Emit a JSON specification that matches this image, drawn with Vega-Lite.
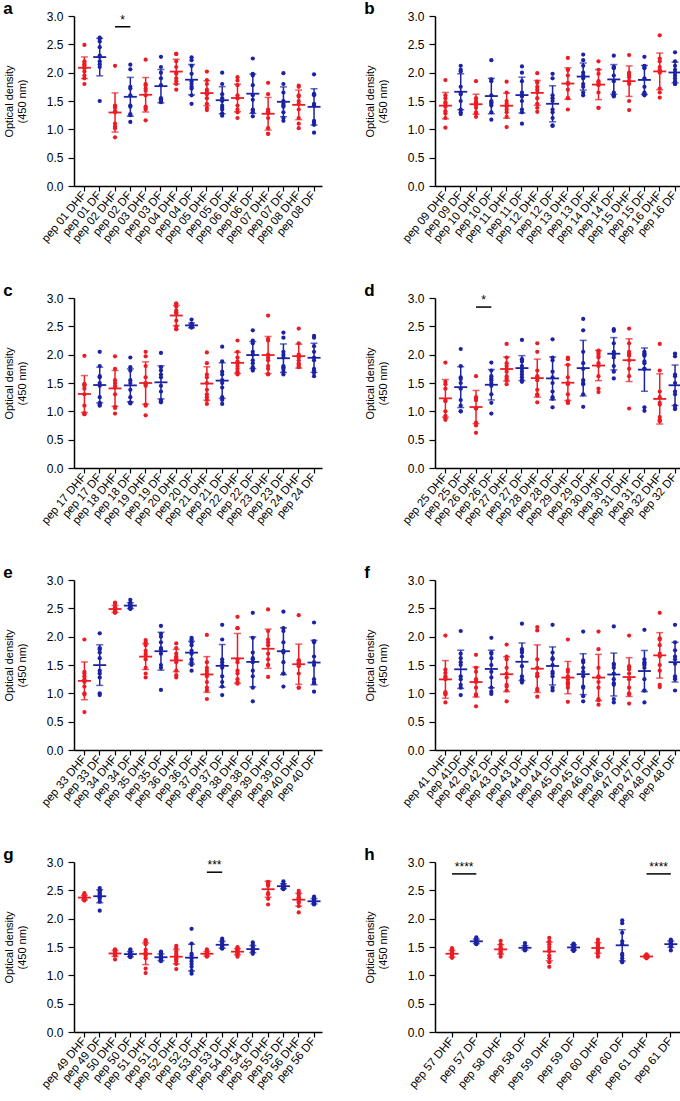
{
  "$schema": "https://vega.github.io/schema/vega-lite/v6.json",
  "padding": {"left": 3, "top": 0, "right": 4, "bottom": 0},
  "config": {
    "font": "Liberation Sans",
    "view": {"stroke": null},
    "axis": {"grid": false, "labelFont": "Liberation Sans", "titleFont": "Liberation Sans", "labelColor": "#000", "titleColor": "#000", "domainColor": "#000", "tickColor": "#000", "domainWidth": 1.5, "tickWidth": 1.2, "tickSize": 6, "labelFontSize": 11, "titleFontSize": 11, "titleFontWeight": "normal"},
    "axisX": {"labelAngle": -50, "labelOverlap": false, "labelPadding": 2, "labelFontSize": 11.5, "tickSize": 5, "title": null},
    "axisY": {"labelPadding": 5, "labelFontSize": 12, "titlePadding": 19, "titleLineHeight": 13},
    "title": {"anchor": "start", "frame": "bounds", "fontSize": 17, "fontWeight": "bold", "font": "Liberation Sans", "offset": -8, "color": "#000"}
  },
  "datasets": {
    "od": [
      {"p": "a", "g": "pep 01 DHF", "t": "DHF", "v": [2.49, 2.2, 2.17, 2.14, 2.12, 2.08, 2.02, 1.95, 1.9, 1.8]},
      {"p": "a", "g": "pep 01 DF", "t": "DF", "v": [2.62, 2.6, 2.55, 2.45, 2.3, 2.28, 2.2, 2.15, 2.1, 1.5]},
      {"p": "a", "g": "pep 02 DHF", "t": "DHF", "v": [2.12, 1.42, 1.4, 1.38, 1.32, 1.3, 1.1, 1.05, 1.02, 0.86]},
      {"p": "a", "g": "pep 02 DF", "t": "DF", "v": [2.14, 2.06, 1.75, 1.72, 1.6, 1.42, 1.4, 1.27, 1.25, 1.13]},
      {"p": "a", "g": "pep 03 DHF", "t": "DHF", "v": [2.23, 1.8, 1.78, 1.72, 1.68, 1.6, 1.4, 1.38, 1.35, 1.16]},
      {"p": "a", "g": "pep 03 DF", "t": "DF", "v": [2.28, 2.1, 2.0, 1.9, 1.78, 1.55, 1.53, 1.5, 1.48, 1.5]},
      {"p": "a", "g": "pep 04 DHF", "t": "DHF", "v": [2.33, 2.33, 2.2, 2.1, 2.0, 1.98, 1.9, 1.85, 1.8, 1.7]},
      {"p": "a", "g": "pep 04 DF", "t": "DF", "v": [2.27, 2.22, 2.12, 1.98, 1.85, 1.8, 1.75, 1.72, 1.6, 1.45]},
      {"p": "a", "g": "pep 05 DHF", "t": "DHF", "v": [2.02, 1.87, 1.8, 1.7, 1.66, 1.62, 1.55, 1.45, 1.38, 1.34]},
      {"p": "a", "g": "pep 05 DF", "t": "DF", "v": [2.0, 1.8, 1.62, 1.55, 1.5, 1.42, 1.38, 1.35, 1.28, 1.24]},
      {"p": "a", "g": "pep 06 DHF", "t": "DHF", "v": [1.92, 1.86, 1.78, 1.6, 1.55, 1.55, 1.42, 1.35, 1.3, 1.2]},
      {"p": "a", "g": "pep 06 DF", "t": "DF", "v": [2.25, 1.98, 1.95, 1.78, 1.6, 1.52, 1.35, 1.33, 1.3, 1.23]},
      {"p": "a", "g": "pep 07 DHF", "t": "DHF", "v": [1.82, 1.62, 1.35, 1.32, 1.3, 1.28, 1.2, 1.02, 0.92, 0.92]},
      {"p": "a", "g": "pep 07 DF", "t": "DF", "v": [1.99, 1.8, 1.65, 1.5, 1.45, 1.42, 1.4, 1.3, 1.2, 1.15]},
      {"p": "a", "g": "pep 08 DHF", "t": "DHF", "v": [1.77, 1.75, 1.6, 1.58, 1.5, 1.45, 1.35, 1.2, 1.1, 1.02]},
      {"p": "a", "g": "pep 08 DF", "t": "DF", "v": [1.97, 1.62, 1.62, 1.6, 1.45, 1.42, 1.15, 1.12, 1.08, 0.94]},
      {"p": "b", "g": "pep 09 DHF", "t": "DHF", "v": [1.87, 1.6, 1.55, 1.48, 1.45, 1.4, 1.32, 1.28, 1.2, 1.03]},
      {"p": "b", "g": "pep 09 DF", "t": "DF", "v": [2.12, 2.05, 2.02, 1.75, 1.65, 1.62, 1.5, 1.35, 1.3, 1.27]},
      {"p": "b", "g": "pep 10 DHF", "t": "DHF", "v": [1.85, 1.55, 1.5, 1.48, 1.45, 1.42, 1.38, 1.3, 1.28, 1.22]},
      {"p": "b", "g": "pep 10 DF", "t": "DF", "v": [2.22, 1.88, 1.85, 1.6, 1.5, 1.48, 1.45, 1.42, 1.3, 1.17]},
      {"p": "b", "g": "pep 11 DHF", "t": "DHF", "v": [1.84, 1.65, 1.5, 1.45, 1.42, 1.4, 1.35, 1.3, 1.22, 1.04]},
      {"p": "b", "g": "pep 11 DF", "t": "DF", "v": [2.11, 2.0, 1.85, 1.65, 1.6, 1.58, 1.5, 1.35, 1.3, 1.1]},
      {"p": "b", "g": "pep 12 DHF", "t": "DHF", "v": [1.99, 1.84, 1.82, 1.75, 1.7, 1.65, 1.55, 1.45, 1.38, 1.31]},
      {"p": "b", "g": "pep 12 DF", "t": "DF", "v": [1.98, 1.9, 1.6, 1.55, 1.5, 1.35, 1.3, 1.2, 1.07, 1.06]},
      {"p": "b", "g": "pep 13 DHF", "t": "DHF", "v": [2.26, 2.05, 2.05, 1.95, 1.82, 1.8, 1.7, 1.55, 1.55, 1.35]},
      {"p": "b", "g": "pep 13 DF", "t": "DF", "v": [2.32, 2.22, 2.12, 2.0, 1.95, 1.9, 1.8, 1.75, 1.65, 1.6]},
      {"p": "b", "g": "pep 14 DHF", "t": "DHF", "v": [2.2, 2.05, 1.98, 1.85, 1.82, 1.8, 1.78, 1.65, 1.38, 1.38]},
      {"p": "b", "g": "pep 14 DF", "t": "DF", "v": [2.3, 2.1, 2.1, 2.08, 1.95, 1.85, 1.65, 1.6, 1.6, 1.58]},
      {"p": "b", "g": "pep 15 DHF", "t": "DHF", "v": [2.31, 2.0, 1.98, 1.95, 1.92, 1.85, 1.85, 1.8, 1.5, 1.34]},
      {"p": "b", "g": "pep 15 DF", "t": "DF", "v": [2.28, 2.12, 2.1, 2.08, 1.9, 1.75, 1.65, 1.62, 1.62, 1.6]},
      {"p": "b", "g": "pep 16 DHF", "t": "DHF", "v": [2.66, 2.25, 2.2, 2.1, 2.05, 2.03, 2.0, 1.72, 1.65, 1.56]},
      {"p": "b", "g": "pep 16 DF", "t": "DF", "v": [2.36, 2.2, 2.12, 2.05, 2.0, 1.95, 1.9, 1.85, 1.8, 1.8]},
      {"p": "c", "g": "pep 17 DHF", "t": "DHF", "v": [1.98, 1.48, 1.48, 1.45, 1.4, 1.3, 1.1, 0.97, 0.95, 0.95]},
      {"p": "c", "g": "pep 17 DF", "t": "DF", "v": [2.05, 1.8, 1.62, 1.6, 1.5, 1.45, 1.25, 1.15, 1.12, 1.1]},
      {"p": "c", "g": "pep 18 DHF", "t": "DHF", "v": [1.97, 1.75, 1.55, 1.5, 1.45, 1.42, 1.3, 1.08, 1.06, 0.96]},
      {"p": "c", "g": "pep 18 DF", "t": "DF", "v": [1.95, 1.78, 1.72, 1.55, 1.5, 1.38, 1.25, 1.16, 1.15, 1.14]},
      {"p": "c", "g": "pep 19 DHF", "t": "DHF", "v": [2.05, 1.97, 1.8, 1.6, 1.5, 1.48, 1.45, 1.12, 1.1, 0.93]},
      {"p": "c", "g": "pep 19 DF", "t": "DF", "v": [2.03, 1.78, 1.72, 1.65, 1.6, 1.45, 1.35, 1.2, 1.18, 1.16]},
      {"p": "c", "g": "pep 20 DHF", "t": "DHF", "v": [2.9, 2.9, 2.85, 2.78, 2.75, 2.73, 2.6, 2.5, 2.45, 2.45]},
      {"p": "c", "g": "pep 20 DF", "t": "DF", "v": [2.62, 2.55, 2.52, 2.52, 2.51, 2.5, 2.5, 2.49, 2.48, 2.48]},
      {"p": "c", "g": "pep 21 DHF", "t": "DHF", "v": [2.04, 1.85, 1.65, 1.6, 1.5, 1.38, 1.3, 1.25, 1.2, 1.13]},
      {"p": "c", "g": "pep 21 DF", "t": "DF", "v": [2.14, 1.88, 1.7, 1.65, 1.55, 1.5, 1.42, 1.25, 1.2, 1.13]},
      {"p": "c", "g": "pep 22 DHF", "t": "DHF", "v": [2.25, 2.05, 1.95, 1.88, 1.85, 1.8, 1.75, 1.7, 1.68, 1.65]},
      {"p": "c", "g": "pep 22 DF", "t": "DF", "v": [2.43, 2.25, 2.2, 2.05, 2.0, 1.9, 1.85, 1.78, 1.75, 1.72]},
      {"p": "c", "g": "pep 23 DHF", "t": "DHF", "v": [2.69, 2.28, 2.25, 2.0, 1.95, 1.9, 1.8, 1.75, 1.66, 1.65]},
      {"p": "c", "g": "pep 23 DF", "t": "DF", "v": [2.39, 2.3, 2.05, 2.0, 1.95, 1.8, 1.78, 1.75, 1.7, 1.65]},
      {"p": "c", "g": "pep 24 DHF", "t": "DHF", "v": [2.46, 2.2, 2.0, 1.98, 1.95, 1.9, 1.85, 1.82, 1.8, 1.78]},
      {"p": "c", "g": "pep 24 DF", "t": "DF", "v": [2.33, 2.3, 2.15, 2.05, 1.95, 1.9, 1.75, 1.72, 1.68, 1.62]},
      {"p": "d", "g": "pep 25 DHF", "t": "DHF", "v": [1.86, 1.52, 1.48, 1.4, 1.2, 1.18, 1.0, 0.92, 0.88, 0.85]},
      {"p": "d", "g": "pep 25 DF", "t": "DF", "v": [2.1, 1.8, 1.6, 1.57, 1.5, 1.4, 1.2, 1.1, 1.0, 1.0]},
      {"p": "d", "g": "pep 26 DHF", "t": "DHF", "v": [1.62, 1.25, 1.22, 1.2, 1.2, 1.05, 1.05, 0.8, 0.75, 0.62]},
      {"p": "d", "g": "pep 26 DF", "t": "DF", "v": [1.86, 1.72, 1.62, 1.58, 1.55, 1.5, 1.45, 1.3, 1.15, 0.96]},
      {"p": "d", "g": "pep 27 DHF", "t": "DHF", "v": [2.19, 1.95, 1.85, 1.8, 1.75, 1.7, 1.62, 1.58, 1.55, 1.48]},
      {"p": "d", "g": "pep 27 DF", "t": "DF", "v": [2.26, 1.92, 1.88, 1.8, 1.75, 1.7, 1.65, 1.6, 1.55, 1.52]},
      {"p": "d", "g": "pep 28 DHF", "t": "DHF", "v": [2.2, 2.05, 1.72, 1.62, 1.6, 1.55, 1.38, 1.3, 1.28, 1.16]},
      {"p": "d", "g": "pep 28 DF", "t": "DF", "v": [2.27, 1.95, 1.9, 1.7, 1.6, 1.5, 1.35, 1.25, 1.22, 1.07]},
      {"p": "d", "g": "pep 29 DHF", "t": "DHF", "v": [1.95, 1.92, 1.82, 1.6, 1.5, 1.48, 1.3, 1.18, 1.15, 1.15]},
      {"p": "d", "g": "pep 29 DF", "t": "DF", "v": [2.63, 2.43, 2.05, 1.85, 1.75, 1.55, 1.5, 1.48, 1.3, 1.08]},
      {"p": "d", "g": "pep 30 DHF", "t": "DHF", "v": [2.07, 2.05, 2.02, 1.98, 1.95, 1.85, 1.8, 1.62, 1.4, 1.34]},
      {"p": "d", "g": "pep 30 DF", "t": "DF", "v": [2.45, 2.42, 2.2, 2.05, 2.02, 2.0, 1.95, 1.8, 1.7, 1.58]},
      {"p": "d", "g": "pep 31 DHF", "t": "DHF", "v": [2.46, 2.2, 2.05, 2.02, 2.0, 1.98, 1.9, 1.75, 1.62, 1.05]},
      {"p": "d", "g": "pep 31 DF", "t": "DF", "v": [2.05, 2.02, 2.0, 1.98, 1.88, 1.85, 1.75, 1.75, 1.07, 1.01]},
      {"p": "d", "g": "pep 32 DHF", "t": "DHF", "v": [2.19, 1.72, 1.35, 1.25, 1.15, 1.12, 0.9, 0.85, 0.83, 0.83]},
      {"p": "d", "g": "pep 32 DF", "t": "DF", "v": [2.02, 1.97, 1.65, 1.62, 1.5, 1.35, 1.3, 1.1, 1.05, 1.04]},
      {"p": "e", "g": "pep 33 DHF", "t": "DHF", "v": [1.95, 1.38, 1.35, 1.3, 1.25, 1.2, 1.12, 1.0, 0.98, 0.67]},
      {"p": "e", "g": "pep 33 DF", "t": "DF", "v": [2.06, 1.8, 1.78, 1.72, 1.62, 1.4, 1.35, 1.28, 1.0, 0.97]},
      {"p": "e", "g": "pep 34 DHF", "t": "DHF", "v": [2.6, 2.58, 2.52, 2.5, 2.48, 2.46, 2.45, 2.44, 2.43, 2.42]},
      {"p": "e", "g": "pep 34 DF", "t": "DF", "v": [2.65, 2.6, 2.58, 2.56, 2.55, 2.53, 2.52, 2.5, 2.5, 2.49]},
      {"p": "e", "g": "pep 35 DHF", "t": "DHF", "v": [1.94, 1.9, 1.85, 1.75, 1.7, 1.66, 1.6, 1.45, 1.35, 1.28]},
      {"p": "e", "g": "pep 35 DF", "t": "DF", "v": [2.19, 2.05, 2.0, 1.9, 1.8, 1.78, 1.7, 1.5, 1.45, 1.06]},
      {"p": "e", "g": "pep 36 DHF", "t": "DHF", "v": [1.88, 1.8, 1.7, 1.65, 1.62, 1.6, 1.55, 1.4, 1.32, 1.28]},
      {"p": "e", "g": "pep 36 DF", "t": "DF", "v": [1.98, 1.95, 1.9, 1.85, 1.75, 1.7, 1.6, 1.55, 1.5, 1.4]},
      {"p": "e", "g": "pep 37 DHF", "t": "DHF", "v": [2.03, 1.55, 1.45, 1.4, 1.35, 1.3, 1.2, 1.1, 1.05, 0.9]},
      {"p": "e", "g": "pep 37 DF", "t": "DF", "v": [2.21, 1.95, 1.6, 1.55, 1.5, 1.45, 1.3, 1.2, 1.12, 0.97]},
      {"p": "e", "g": "pep 38 DHF", "t": "DHF", "v": [2.35, 2.15, 2.15, 1.6, 1.55, 1.4, 1.35, 1.25, 1.2, 1.17]},
      {"p": "e", "g": "pep 38 DF", "t": "DF", "v": [2.42, 1.98, 1.72, 1.62, 1.6, 1.55, 1.4, 1.3, 1.1, 0.86]},
      {"p": "e", "g": "pep 39 DHF", "t": "DHF", "v": [2.48, 2.1, 1.95, 1.9, 1.85, 1.7, 1.6, 1.5, 1.5, 1.29]},
      {"p": "e", "g": "pep 39 DF", "t": "DF", "v": [2.44, 2.15, 2.1, 1.9, 1.75, 1.72, 1.55, 1.35, 1.35, 1.12]},
      {"p": "e", "g": "pep 40 DHF", "t": "DHF", "v": [2.38, 1.58, 1.58, 1.55, 1.52, 1.5, 1.48, 1.35, 1.1, 1.1]},
      {"p": "e", "g": "pep 40 DF", "t": "DF", "v": [2.25, 1.92, 1.9, 1.65, 1.55, 1.5, 1.25, 1.2, 1.18, 1.03]},
      {"p": "f", "g": "pep 41 DHF", "t": "DHF", "v": [2.02, 1.42, 1.36, 1.3, 1.27, 1.25, 1.02, 1.0, 0.98, 0.84]},
      {"p": "f", "g": "pep 41DF", "t": "DF", "v": [2.1, 1.7, 1.62, 1.55, 1.5, 1.3, 1.25, 1.15, 1.1, 0.97]},
      {"p": "f", "g": "pep 42 DHF", "t": "DHF", "v": [1.68, 1.45, 1.38, 1.25, 1.22, 1.2, 1.1, 0.98, 0.96, 0.77]},
      {"p": "f", "g": "pep 42 DF", "t": "DF", "v": [1.98, 1.72, 1.7, 1.62, 1.5, 1.38, 1.28, 1.1, 1.03, 0.99]},
      {"p": "f", "g": "pep 43 DHF", "t": "DHF", "v": [1.86, 1.65, 1.6, 1.45, 1.35, 1.28, 1.15, 1.12, 1.05, 0.86]},
      {"p": "f", "g": "pep 43 DF", "t": "DF", "v": [2.23, 1.78, 1.75, 1.72, 1.65, 1.48, 1.3, 1.25, 1.22, 1.19]},
      {"p": "f", "g": "pep 44 DHF", "t": "DHF", "v": [2.17, 2.11, 1.6, 1.45, 1.35, 1.3, 1.3, 1.08, 1.05, 0.94]},
      {"p": "f", "g": "pep 44 DF", "t": "DF", "v": [2.21, 1.72, 1.62, 1.6, 1.5, 1.38, 1.35, 1.3, 1.1, 1.05]},
      {"p": "f", "g": "pep 45 DHF", "t": "DHF", "v": [1.95, 1.42, 1.38, 1.3, 1.25, 1.2, 1.18, 1.15, 1.1, 0.85]},
      {"p": "f", "g": "pep 45 DF", "t": "DF", "v": [2.09, 1.58, 1.55, 1.45, 1.38, 1.3, 1.12, 1.1, 0.95, 0.86]},
      {"p": "f", "g": "pep 46 DHF", "t": "DHF", "v": [2.09, 1.78, 1.45, 1.3, 1.28, 1.2, 1.1, 0.9, 0.88, 0.8]},
      {"p": "f", "g": "pep 46 DF", "t": "DF", "v": [2.18, 1.52, 1.5, 1.45, 1.35, 1.25, 1.18, 1.15, 0.9, 0.84]},
      {"p": "f", "g": "pep 47 DHF", "t": "DHF", "v": [2.02, 1.48, 1.45, 1.42, 1.35, 1.25, 1.1, 1.0, 0.98, 0.82]},
      {"p": "f", "g": "pep 47 DF", "t": "DF", "v": [2.12, 1.6, 1.55, 1.52, 1.5, 1.45, 1.25, 1.05, 1.05, 0.84]},
      {"p": "f", "g": "pep 48 DHF", "t": "DHF", "v": [2.42, 1.97, 1.95, 1.85, 1.7, 1.65, 1.5, 1.4, 1.15, 1.11]},
      {"p": "f", "g": "pep 48 DF", "t": "DF", "v": [2.21, 1.9, 1.76, 1.65, 1.6, 1.52, 1.3, 1.26, 1.25, 1.05]},
      {"p": "g", "g": "pep 49 DHF", "t": "DHF", "v": [2.45, 2.42, 2.4, 2.38, 2.37, 2.36, 2.35, 2.34, 2.33, 2.32]},
      {"p": "g", "g": "pep 49 DF", "t": "DF", "v": [2.54, 2.5, 2.48, 2.45, 2.42, 2.4, 2.38, 2.35, 2.3, 2.14]},
      {"p": "g", "g": "pep 50 DHF", "t": "DHF", "v": [1.46, 1.45, 1.42, 1.4, 1.39, 1.38, 1.37, 1.36, 1.35, 1.28]},
      {"p": "g", "g": "pep 50 DF", "t": "DF", "v": [1.46, 1.43, 1.4, 1.38, 1.37, 1.36, 1.35, 1.34, 1.33, 1.32]},
      {"p": "g", "g": "pep 51 DHF", "t": "DHF", "v": [1.62, 1.6, 1.55, 1.45, 1.4, 1.38, 1.35, 1.3, 1.12, 1.04]},
      {"p": "g", "g": "pep 51 DF", "t": "DF", "v": [1.42, 1.4, 1.36, 1.33, 1.32, 1.3, 1.28, 1.27, 1.26, 1.25]},
      {"p": "g", "g": "pep 52 DHF", "t": "DHF", "v": [1.52, 1.48, 1.42, 1.38, 1.35, 1.3, 1.28, 1.25, 1.2, 1.11]},
      {"p": "g", "g": "pep 52 DF", "t": "DF", "v": [1.82, 1.56, 1.38, 1.35, 1.3, 1.25, 1.2, 1.15, 1.08, 1.03]},
      {"p": "g", "g": "pep 53 DHF", "t": "DHF", "v": [1.46, 1.43, 1.4, 1.39, 1.38, 1.37, 1.36, 1.35, 1.34, 1.33]},
      {"p": "g", "g": "pep 53 DF", "t": "DF", "v": [1.65, 1.62, 1.58, 1.55, 1.53, 1.52, 1.5, 1.49, 1.48, 1.47]},
      {"p": "g", "g": "pep 54 DHF", "t": "DHF", "v": [1.5, 1.48, 1.46, 1.44, 1.42, 1.41, 1.4, 1.38, 1.36, 1.33]},
      {"p": "g", "g": "pep 54 DF", "t": "DF", "v": [1.58, 1.54, 1.5, 1.47, 1.46, 1.45, 1.43, 1.42, 1.4, 1.38]},
      {"p": "g", "g": "pep 55 DHF", "t": "DHF", "v": [2.65, 2.64, 2.63, 2.62, 2.6, 2.58, 2.45, 2.43, 2.35, 2.25]},
      {"p": "g", "g": "pep 55 DF", "t": "DF", "v": [2.66, 2.62, 2.6, 2.58, 2.57, 2.56, 2.55, 2.54, 2.53, 2.52]},
      {"p": "g", "g": "pep 56 DHF", "t": "DHF", "v": [2.49, 2.45, 2.42, 2.38, 2.36, 2.34, 2.3, 2.28, 2.22, 2.11]},
      {"p": "g", "g": "pep 56 DF", "t": "DF", "v": [2.39, 2.37, 2.34, 2.32, 2.3, 2.29, 2.28, 2.27, 2.26, 2.25]},
      {"p": "h", "g": "pep 57 DHF", "t": "DHF", "v": [1.48, 1.46, 1.42, 1.4, 1.38, 1.36, 1.35, 1.33, 1.32, 1.31]},
      {"p": "h", "g": "pep 57 DF", "t": "DF", "v": [1.67, 1.65, 1.62, 1.61, 1.6, 1.59, 1.58, 1.57, 1.56, 1.55]},
      {"p": "h", "g": "pep 58 DHF", "t": "DHF", "v": [1.61, 1.55, 1.5, 1.48, 1.46, 1.45, 1.42, 1.4, 1.38, 1.33]},
      {"p": "h", "g": "pep 58 DF", "t": "DF", "v": [1.57, 1.52, 1.5, 1.49, 1.48, 1.48, 1.47, 1.46, 1.45, 1.44]},
      {"p": "h", "g": "pep 59 DHF", "t": "DHF", "v": [1.66, 1.6, 1.55, 1.5, 1.45, 1.42, 1.35, 1.3, 1.23, 1.15]},
      {"p": "h", "g": "pep 59 DF", "t": "DF", "v": [1.56, 1.55, 1.53, 1.52, 1.5, 1.48, 1.46, 1.45, 1.44, 1.43]},
      {"p": "h", "g": "pep 60 DHF", "t": "DHF", "v": [1.63, 1.58, 1.55, 1.52, 1.5, 1.47, 1.45, 1.42, 1.38, 1.33]},
      {"p": "h", "g": "pep 60 DF", "t": "DF", "v": [1.97, 1.92, 1.75, 1.6, 1.55, 1.38, 1.35, 1.3, 1.25, 1.23]},
      {"p": "h", "g": "pep 61 DHF", "t": "DHF", "v": [1.37, 1.36, 1.35, 1.34, 1.33, 1.33, 1.32, 1.32, 1.31, 1.3]},
      {"p": "h", "g": "pep 61 DF", "t": "DF", "v": [1.63, 1.61, 1.58, 1.57, 1.56, 1.55, 1.54, 1.52, 1.5, 1.44]}
    ],
    "sig": [
      {"p": "a", "g": "pep 02 DHF", "g2": "pep 02 DF", "y": 2.81, "s": "*"},
      {"p": "d", "g": "pep 26 DHF", "g2": "pep 26 DF", "y": 2.84, "s": "*"},
      {"p": "g", "g": "pep 53 DHF", "g2": "pep 53 DF", "y": 2.82, "s": "***"},
      {"p": "h", "g": "pep 57 DHF", "g2": "pep 57 DF", "y": 2.79, "s": "****"},
      {"p": "h", "g": "pep 61 DHF", "g2": "pep 61 DF", "y": 2.79, "s": "****"}
    ]
  },
  "columns": 2,
  "spacing": {"row": 37, "column": 42},
  "concat": [
    {
      "title": "a", "width": 248, "height": 170,
      "encoding": {"x": {"field": "g", "type": "nominal", "scale": {"domain": ["pep 01 DHF", "pep 01 DF", "pep 02 DHF", "pep 02 DF", "pep 03 DHF", "pep 03 DF", "pep 04 DHF", "pep 04 DF", "pep 05 DHF", "pep 05 DF", "pep 06 DHF", "pep 06 DF", "pep 07 DHF", "pep 07 DF", "pep 08 DHF", "pep 08 DF"], "paddingInner": 0, "paddingOuter": 0.1, "align": 0.9}}},
      "layer": [
        {
          "data": {"name": "od"},
          "transform": [{"filter": "datum.p == 'a'"}, {"flatten": ["v"]}],
          "encoding": {
            "y": {"field": "v", "type": "quantitative", "scale": {"domain": [0, 3], "nice": false}, "axis": {"values": [0, 0.5, 1, 1.5, 2, 2.5, 3], "format": ".1f", "title": ["Optical density", "(450 nm)"]}},
            "color": {"field": "t", "type": "nominal", "scale": {"domain": ["DHF", "DF"], "range": ["#ec1c24", "#1b22a3"]}, "legend": null}
          },
          "layer": [
            {"mark": {"type": "circle", "size": 18, "opacity": 1}},
            {"mark": {"type": "errorbar", "extent": "stdev", "thickness": 1.5, "ticks": {"size": 7, "thickness": 1.5}}},
            {"mark": {"type": "tick", "size": 13, "thickness": 1.8}, "encoding": {"y": {"aggregate": "mean", "field": "v", "type": "quantitative"}}}
          ]
        },
        {
          "data": {"name": "sig"},
          "transform": [{"filter": "datum.p == 'a'"}],
          "encoding": {"y": {"field": "y", "type": "quantitative", "axis": {"values": [0, 0.5, 1, 1.5, 2, 2.5, 3], "format": ".1f", "title": ["Optical density", "(450 nm)"]}}},
          "layer": [
            {"mark": {"type": "rule", "strokeWidth": 1.5, "color": "#000"}, "encoding": {"x2": {"field": "g2"}}},
            {"mark": {"type": "text", "fontSize": 12, "baseline": "alphabetic", "dy": -3, "color": "#000"}, "encoding": {"x": {"field": "g2", "type": "nominal", "bandPosition": 0}, "text": {"field": "s"}}}
          ]
        }
      ]
    },
    {
      "title": "b", "width": 248, "height": 170,
      "encoding": {"x": {"field": "g", "type": "nominal", "scale": {"domain": ["pep 09 DHF", "pep 09 DF", "pep 10 DHF", "pep 10 DF", "pep 11 DHF", "pep 11 DF", "pep 12 DHF", "pep 12 DF", "pep 13 DHF", "pep 13 DF", "pep 14 DHF", "pep 14 DF", "pep 15 DHF", "pep 15 DF", "pep 16 DHF", "pep 16 DF"], "paddingInner": 0, "paddingOuter": 0.1, "align": 0.9}}},
      "layer": [
        {
          "data": {"name": "od"},
          "transform": [{"filter": "datum.p == 'b'"}, {"flatten": ["v"]}],
          "encoding": {
            "y": {"field": "v", "type": "quantitative", "scale": {"domain": [0, 3], "nice": false}, "axis": {"values": [0, 0.5, 1, 1.5, 2, 2.5, 3], "format": ".1f", "title": ["Optical density", "(450 nm)"]}},
            "color": {"field": "t", "type": "nominal", "scale": {"domain": ["DHF", "DF"], "range": ["#ec1c24", "#1b22a3"]}, "legend": null}
          },
          "layer": [
            {"mark": {"type": "circle", "size": 18, "opacity": 1}},
            {"mark": {"type": "errorbar", "extent": "stdev", "thickness": 1.5, "ticks": {"size": 7, "thickness": 1.5}}},
            {"mark": {"type": "tick", "size": 13, "thickness": 1.8}, "encoding": {"y": {"aggregate": "mean", "field": "v", "type": "quantitative"}}}
          ]
        }
      ]
    },
    {
      "title": "c", "width": 248, "height": 170,
      "encoding": {"x": {"field": "g", "type": "nominal", "scale": {"domain": ["pep 17 DHF", "pep 17 DF", "pep 18 DHF", "pep 18 DF", "pep 19 DHF", "pep 19 DF", "pep 20 DHF", "pep 20 DF", "pep 21 DHF", "pep 21 DF", "pep 22 DHF", "pep 22 DF", "pep 23 DHF", "pep 23 DF", "pep 24 DHF", "pep 24 DF"], "paddingInner": 0, "paddingOuter": 0.1, "align": 0.9}}},
      "layer": [
        {
          "data": {"name": "od"},
          "transform": [{"filter": "datum.p == 'c'"}, {"flatten": ["v"]}],
          "encoding": {
            "y": {"field": "v", "type": "quantitative", "scale": {"domain": [0, 3], "nice": false}, "axis": {"values": [0, 0.5, 1, 1.5, 2, 2.5, 3], "format": ".1f", "title": ["Optical density", "(450 nm)"]}},
            "color": {"field": "t", "type": "nominal", "scale": {"domain": ["DHF", "DF"], "range": ["#ec1c24", "#1b22a3"]}, "legend": null}
          },
          "layer": [
            {"mark": {"type": "circle", "size": 18, "opacity": 1}},
            {"mark": {"type": "errorbar", "extent": "stdev", "thickness": 1.5, "ticks": {"size": 7, "thickness": 1.5}}},
            {"mark": {"type": "tick", "size": 13, "thickness": 1.8}, "encoding": {"y": {"aggregate": "mean", "field": "v", "type": "quantitative"}}}
          ]
        }
      ]
    },
    {
      "title": "d", "width": 248, "height": 170,
      "encoding": {"x": {"field": "g", "type": "nominal", "scale": {"domain": ["pep 25 DHF", "pep 25 DF", "pep 26 DHF", "pep 26 DF", "pep 27 DHF", "pep 27 DF", "pep 28 DHF", "pep 28 DF", "pep 29 DHF", "pep 29 DF", "pep 30 DHF", "pep 30 DF", "pep 31 DHF", "pep 31 DF", "pep 32 DHF", "pep 32 DF"], "paddingInner": 0, "paddingOuter": 0.1, "align": 0.9}}},
      "layer": [
        {
          "data": {"name": "od"},
          "transform": [{"filter": "datum.p == 'd'"}, {"flatten": ["v"]}],
          "encoding": {
            "y": {"field": "v", "type": "quantitative", "scale": {"domain": [0, 3], "nice": false}, "axis": {"values": [0, 0.5, 1, 1.5, 2, 2.5, 3], "format": ".1f", "title": ["Optical density", "(450 nm)"]}},
            "color": {"field": "t", "type": "nominal", "scale": {"domain": ["DHF", "DF"], "range": ["#ec1c24", "#1b22a3"]}, "legend": null}
          },
          "layer": [
            {"mark": {"type": "circle", "size": 18, "opacity": 1}},
            {"mark": {"type": "errorbar", "extent": "stdev", "thickness": 1.5, "ticks": {"size": 7, "thickness": 1.5}}},
            {"mark": {"type": "tick", "size": 13, "thickness": 1.8}, "encoding": {"y": {"aggregate": "mean", "field": "v", "type": "quantitative"}}}
          ]
        },
        {
          "data": {"name": "sig"},
          "transform": [{"filter": "datum.p == 'd'"}],
          "encoding": {"y": {"field": "y", "type": "quantitative", "axis": {"values": [0, 0.5, 1, 1.5, 2, 2.5, 3], "format": ".1f", "title": ["Optical density", "(450 nm)"]}}},
          "layer": [
            {"mark": {"type": "rule", "strokeWidth": 1.5, "color": "#000"}, "encoding": {"x2": {"field": "g2"}}},
            {"mark": {"type": "text", "fontSize": 12, "baseline": "alphabetic", "dy": -3, "color": "#000"}, "encoding": {"x": {"field": "g2", "type": "nominal", "bandPosition": 0}, "text": {"field": "s"}}}
          ]
        }
      ]
    },
    {
      "title": "e", "width": 248, "height": 170,
      "encoding": {"x": {"field": "g", "type": "nominal", "scale": {"domain": ["pep 33 DHF", "pep 33 DF", "pep 34 DHF", "pep 34 DF", "pep 35 DHF", "pep 35 DF", "pep 36 DHF", "pep 36 DF", "pep 37 DHF", "pep 37 DF", "pep 38 DHF", "pep 38 DF", "pep 39 DHF", "pep 39 DF", "pep 40 DHF", "pep 40 DF"], "paddingInner": 0, "paddingOuter": 0.1, "align": 0.9}}},
      "layer": [
        {
          "data": {"name": "od"},
          "transform": [{"filter": "datum.p == 'e'"}, {"flatten": ["v"]}],
          "encoding": {
            "y": {"field": "v", "type": "quantitative", "scale": {"domain": [0, 3], "nice": false}, "axis": {"values": [0, 0.5, 1, 1.5, 2, 2.5, 3], "format": ".1f", "title": ["Optical density", "(450 nm)"]}},
            "color": {"field": "t", "type": "nominal", "scale": {"domain": ["DHF", "DF"], "range": ["#ec1c24", "#1b22a3"]}, "legend": null}
          },
          "layer": [
            {"mark": {"type": "circle", "size": 18, "opacity": 1}},
            {"mark": {"type": "errorbar", "extent": "stdev", "thickness": 1.5, "ticks": {"size": 7, "thickness": 1.5}}},
            {"mark": {"type": "tick", "size": 13, "thickness": 1.8}, "encoding": {"y": {"aggregate": "mean", "field": "v", "type": "quantitative"}}}
          ]
        }
      ]
    },
    {
      "title": "f", "width": 248, "height": 170,
      "encoding": {"x": {"field": "g", "type": "nominal", "scale": {"domain": ["pep 41 DHF", "pep 41DF", "pep 42 DHF", "pep 42 DF", "pep 43 DHF", "pep 43 DF", "pep 44 DHF", "pep 44 DF", "pep 45 DHF", "pep 45 DF", "pep 46 DHF", "pep 46 DF", "pep 47 DHF", "pep 47 DF", "pep 48 DHF", "pep 48 DF"], "paddingInner": 0, "paddingOuter": 0.1, "align": 0.9}}},
      "layer": [
        {
          "data": {"name": "od"},
          "transform": [{"filter": "datum.p == 'f'"}, {"flatten": ["v"]}],
          "encoding": {
            "y": {"field": "v", "type": "quantitative", "scale": {"domain": [0, 3], "nice": false}, "axis": {"values": [0, 0.5, 1, 1.5, 2, 2.5, 3], "format": ".1f", "title": ["Optical density", "(450 nm)"]}},
            "color": {"field": "t", "type": "nominal", "scale": {"domain": ["DHF", "DF"], "range": ["#ec1c24", "#1b22a3"]}, "legend": null}
          },
          "layer": [
            {"mark": {"type": "circle", "size": 18, "opacity": 1}},
            {"mark": {"type": "errorbar", "extent": "stdev", "thickness": 1.5, "ticks": {"size": 7, "thickness": 1.5}}},
            {"mark": {"type": "tick", "size": 13, "thickness": 1.8}, "encoding": {"y": {"aggregate": "mean", "field": "v", "type": "quantitative"}}}
          ]
        }
      ]
    },
    {
      "title": "g", "width": 248, "height": 170,
      "encoding": {"x": {"field": "g", "type": "nominal", "scale": {"domain": ["pep 49 DHF", "pep 49 DF", "pep 50 DHF", "pep 50 DF", "pep 51 DHF", "pep 51 DF", "pep 52 DHF", "pep 52 DF", "pep 53 DHF", "pep 53 DF", "pep 54 DHF", "pep 54 DF", "pep 55 DHF", "pep 55 DF", "pep 56 DHF", "pep 56 DF"], "paddingInner": 0, "paddingOuter": 0.1, "align": 0.9}}},
      "layer": [
        {
          "data": {"name": "od"},
          "transform": [{"filter": "datum.p == 'g'"}, {"flatten": ["v"]}],
          "encoding": {
            "y": {"field": "v", "type": "quantitative", "scale": {"domain": [0, 3], "nice": false}, "axis": {"values": [0, 0.5, 1, 1.5, 2, 2.5, 3], "format": ".1f", "title": ["Optical density", "(450 nm)"]}},
            "color": {"field": "t", "type": "nominal", "scale": {"domain": ["DHF", "DF"], "range": ["#ec1c24", "#1b22a3"]}, "legend": null}
          },
          "layer": [
            {"mark": {"type": "circle", "size": 18, "opacity": 1}},
            {"mark": {"type": "errorbar", "extent": "stdev", "thickness": 1.5, "ticks": {"size": 7, "thickness": 1.5}}},
            {"mark": {"type": "tick", "size": 13, "thickness": 1.8}, "encoding": {"y": {"aggregate": "mean", "field": "v", "type": "quantitative"}}}
          ]
        },
        {
          "data": {"name": "sig"},
          "transform": [{"filter": "datum.p == 'g'"}],
          "encoding": {"y": {"field": "y", "type": "quantitative", "axis": {"values": [0, 0.5, 1, 1.5, 2, 2.5, 3], "format": ".1f", "title": ["Optical density", "(450 nm)"]}}},
          "layer": [
            {"mark": {"type": "rule", "strokeWidth": 1.5, "color": "#000"}, "encoding": {"x2": {"field": "g2"}}},
            {"mark": {"type": "text", "fontSize": 12, "baseline": "alphabetic", "dy": -3, "color": "#000"}, "encoding": {"x": {"field": "g2", "type": "nominal", "bandPosition": 0}, "text": {"field": "s"}}}
          ]
        }
      ]
    },
    {
      "title": "h", "width": 248, "height": 170,
      "encoding": {"x": {"field": "g", "type": "nominal", "scale": {"domain": ["pep 57 DHF", "pep 57 DF", "pep 58 DHF", "pep 58 DF", "pep 59 DHF", "pep 59 DF", "pep 60 DHF", "pep 60 DF", "pep 61 DHF", "pep 61 DF"], "paddingInner": 0, "paddingOuter": 0.1, "align": 1}}},
      "layer": [
        {
          "data": {"name": "od"},
          "transform": [{"filter": "datum.p == 'h'"}, {"flatten": ["v"]}],
          "encoding": {
            "y": {"field": "v", "type": "quantitative", "scale": {"domain": [0, 3], "nice": false}, "axis": {"values": [0, 0.5, 1, 1.5, 2, 2.5, 3], "format": ".1f", "title": ["Optical density", "(450 nm)"]}},
            "color": {"field": "t", "type": "nominal", "scale": {"domain": ["DHF", "DF"], "range": ["#ec1c24", "#1b22a3"]}, "legend": null}
          },
          "layer": [
            {"mark": {"type": "circle", "size": 18, "opacity": 1}},
            {"mark": {"type": "errorbar", "extent": "stdev", "thickness": 1.5, "ticks": {"size": 7, "thickness": 1.5}}},
            {"mark": {"type": "tick", "size": 13, "thickness": 1.8}, "encoding": {"y": {"aggregate": "mean", "field": "v", "type": "quantitative"}}}
          ]
        },
        {
          "data": {"name": "sig"},
          "transform": [{"filter": "datum.p == 'h'"}],
          "encoding": {"y": {"field": "y", "type": "quantitative", "axis": {"values": [0, 0.5, 1, 1.5, 2, 2.5, 3], "format": ".1f", "title": ["Optical density", "(450 nm)"]}}},
          "layer": [
            {"mark": {"type": "rule", "strokeWidth": 1.5, "color": "#000"}, "encoding": {"x2": {"field": "g2"}}},
            {"mark": {"type": "text", "fontSize": 12, "baseline": "alphabetic", "dy": -3, "color": "#000"}, "encoding": {"x": {"field": "g2", "type": "nominal", "bandPosition": 0}, "text": {"field": "s"}}}
          ]
        }
      ]
    }
  ]
}
